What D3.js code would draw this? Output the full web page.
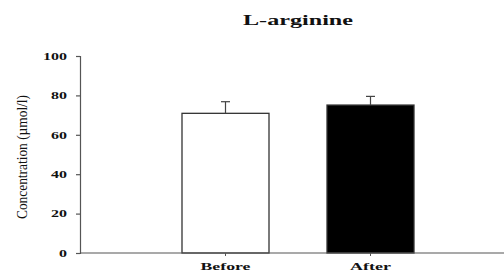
<!DOCTYPE html>
<html><head><meta charset="utf-8">
<script src="https://cdn.jsdelivr.net/npm/d3@7"></script>
<style>body{margin:0;background:#fff}</style>
</head><body>
<svg id="c" width="504" height="271"></svg>
<script>
const categories = ["Before", "After"];
const means = [70.9, 75.1];
const errors = [5.9, 4.4];
const fills = ["#ffffff", "#000000"];
const yTicks = [0, 20, 40, 60, 80, 100];
const title = "L-arginine";
const yLabel = "Concentration (µmol/l)";

const svg = d3.select("#c");
const serif = "'Liberation Serif','Times New Roman',serif";

const y = d3.scaleLinear().domain([0, 100]).range([253, 56]);
const x = d3.scaleBand().domain(categories).range([95, 501]).paddingInner(0.4).paddingOuter(0.6);
const axisColor = "#555";

// Bars
const data = categories.map((c, i) => ({c, m: means[i], e: errors[i], f: fills[i]}));
const g = svg.append("g");
g.selectAll("rect").data(data).enter().append("rect")
  .attr("x", d => x(d.c)).attr("y", d => y(d.m))
  .attr("width", x.bandwidth()).attr("height", d => y(0) - y(d.m))
  .attr("fill", d => d.f).attr("stroke", "#333").attr("stroke-width", 1.3);

// Error bars
const cx = d => x(d.c) + x.bandwidth() / 2;
g.selectAll("line.err").data(data).enter().append("line")
  .attr("x1", cx).attr("x2", cx).attr("y1", d => y(d.m)).attr("y2", d => y(d.m + d.e))
  .attr("stroke", "#444").attr("stroke-width", 1.2);
g.selectAll("line.cap").data(data).enter().append("line")
  .attr("x1", d => cx(d) - 4.5).attr("x2", d => cx(d) + 4.5)
  .attr("y1", d => y(d.m + d.e)).attr("y2", d => y(d.m + d.e))
  .attr("stroke", "#444").attr("stroke-width", 1.2);

// Y axis
const ya = svg.append("g").attr("transform", "translate(80,0)")
  .call(d3.axisLeft(y).tickValues(yTicks).tickSize(4).tickPadding(9));
ya.select(".domain").attr("stroke", axisColor).attr("stroke-width", 1.2);
ya.selectAll(".tick line").attr("stroke", axisColor).attr("stroke-width", 1.2);
ya.selectAll(".tick text")
  .attr("font-family", serif).attr("font-weight", "bold").attr("font-size", 10)
  .attr("fill", "#111")
  .attr("textLength", d => String(d).length * 8)
  .attr("lengthAdjust", "spacingAndGlyphs");

// X axis
const xa = svg.append("g").attr("transform", "translate(0,253)")
  .call(d3.axisBottom(x).tickSize(3).tickPadding(6));
xa.select(".domain").remove();
xa.selectAll(".tick line").attr("stroke", axisColor).attr("stroke-width", 1);
xa.selectAll(".tick text")
  .attr("font-family", serif).attr("font-weight", "bold").attr("font-size", 11)
  .attr("fill", "#111")
  .attr("textLength", d => d === "Before" ? 50 : 41)
  .attr("lengthAdjust", "spacingAndGlyphs");
svg.append("line").attr("x1", 80).attr("x2", 504).attr("y1", 253).attr("y2", 253)
  .attr("stroke", axisColor).attr("stroke-width", 1.2);

// Title
svg.append("text").attr("x", 298).attr("y", 25).attr("text-anchor", "middle")
  .attr("font-family", serif).attr("font-weight", "bold").attr("font-size", 15.5)
  .attr("fill", "#111").attr("textLength", 110).attr("lengthAdjust", "spacingAndGlyphs")
  .text(title);

// Y label
svg.append("text").attr("transform", "translate(27,157) rotate(-90)")
  .attr("text-anchor", "middle")
  .attr("font-family", serif).attr("font-size", 15)
  .attr("fill", "#111").attr("textLength", 124).attr("lengthAdjust", "spacingAndGlyphs")
  .text(yLabel);
</script>
</body></html>
